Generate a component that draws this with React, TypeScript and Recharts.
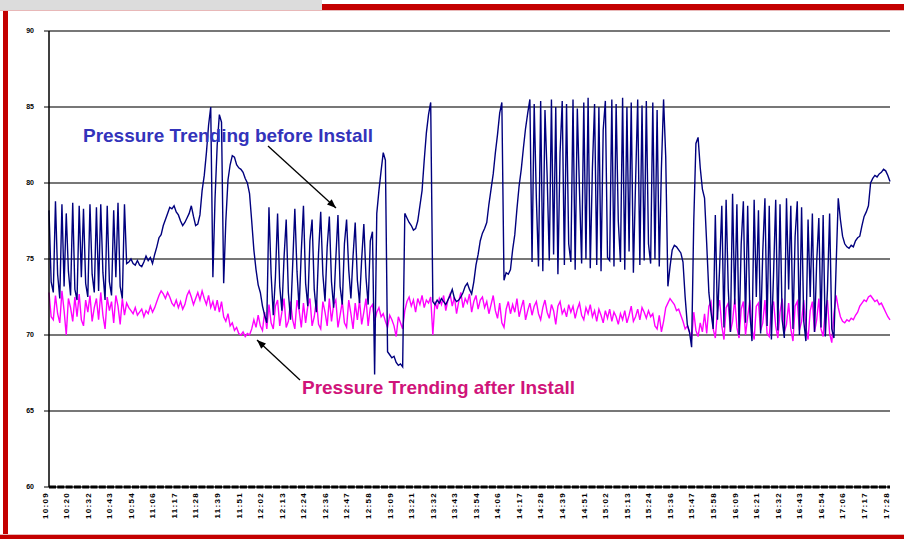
import React from 'react';
import { LineChart, Line, XAxis, YAxis, CartesianGrid } from 'recharts';

const timeLabels = [
  '10:09', '10:20', '10:32', '10:43', '10:54', '11:06', '11:17', '11:28', '11:39', '11:51',
  '12:02', '12:13', '12:24', '12:36', '12:47', '12:58', '13:09', '13:21', '13:32', '13:43',
  '13:54', '14:06', '14:17', '14:28', '14:39', '14:51', '15:02', '15:13', '15:24', '15:36',
  '15:47', '15:58', '16:09', '16:21', '16:32', '16:43', '16:54', '17:06', '17:17', '17:28',
];

const yTicks = [60, 65, 70, 75, 80, 85, 90];
const pointsPerLabel = 10;

const beforeInstall = [
  78.2, 73.5, 72.8, 78.8, 74.0, 72.4, 78.6, 73.2, 78.0, 74.2,
  72.6, 78.7, 73.0, 72.3, 78.5, 73.8, 78.3, 73.4, 72.5, 78.6,
  74.0, 72.8, 78.4, 72.9, 78.6, 74.1, 72.3, 78.5, 73.5, 72.6,
  78.2, 73.8, 78.7, 73.2, 72.4, 78.6, 74.7, 74.8, 75.0, 74.7,
  74.6, 74.9, 74.6, 74.5, 74.8, 75.2, 74.9, 75.1, 74.7, 75.3,
  75.8, 76.4, 76.6, 77.2, 77.6, 78.0, 78.4, 78.3, 78.5, 78.1,
  77.9, 77.5, 77.2, 77.4, 77.7, 78.0, 78.5, 77.8, 77.2, 77.3,
  77.9, 79.5, 80.5, 82.0, 83.8, 85.0, 73.8, 79.0, 82.5, 84.5,
  84.0, 73.4, 77.5, 80.2, 81.2, 81.8, 81.7, 81.2, 81.0, 80.9,
  80.7, 80.3, 80.0, 79.3, 77.5, 75.6, 74.3, 73.3, 72.8, 71.9,
  71.3, 70.8, 78.4, 74.0, 71.3, 73.8, 78.0, 73.2, 71.6, 75.1,
  77.6, 72.8, 71.0, 74.6, 78.3, 74.2, 71.7, 75.5, 78.5, 73.4,
  71.9, 76.2, 77.6, 73.0, 71.5, 75.4, 78.1, 74.0, 72.2, 75.8,
  77.8, 73.5, 71.8, 75.0, 77.9, 73.2, 72.0, 76.0, 77.6, 74.3,
  72.4, 75.2, 77.4, 73.6, 72.1, 75.0, 77.3, 73.8, 72.0, 76.2,
  76.8, 67.4, 78.0, 79.5, 80.8, 82.0, 81.5, 68.9, 68.7, 68.5,
  68.6, 68.2, 68.0, 68.1, 67.9, 78.0, 77.7, 77.4, 77.2, 76.9,
  77.0, 77.5, 78.5, 79.5, 81.5, 83.3, 84.5, 85.3, 72.2, 72.0,
  72.3, 72.1, 72.4, 72.2, 72.0, 72.3, 72.6, 73.0, 72.4, 72.2,
  72.3, 72.5, 72.8, 73.2, 73.4, 73.0, 72.7, 73.5, 74.6, 75.3,
  76.2, 76.7, 77.0, 77.4, 78.6, 79.6, 80.6, 82.0, 83.2, 84.6,
  85.3, 73.6, 74.1, 74.0, 74.3, 75.6, 76.6, 78.3, 79.8, 80.9,
  82.3, 83.6, 84.6, 85.5, 74.8, 85.2, 79.0, 74.5, 85.4, 74.2,
  84.8, 80.5, 74.9, 85.5, 75.3, 85.0, 74.0, 82.0, 85.4, 74.6,
  85.2, 76.0, 74.8, 85.5, 74.3, 84.9, 79.5, 74.7, 85.3, 75.0,
  85.6, 74.4, 81.0, 85.2, 74.6, 85.0, 74.2, 83.5, 85.4, 75.1,
  74.9, 85.5, 74.5, 85.2, 77.5, 74.8, 85.6, 74.3, 85.0, 75.5,
  85.3, 74.1, 80.0, 85.5, 74.6, 85.1, 74.9, 85.4, 76.0, 74.7,
  85.3, 75.0, 84.8, 74.5, 81.0, 85.5, 81.7, 73.2, 74.5, 75.6,
  75.9, 75.8, 75.6, 75.4, 74.8, 72.5, 70.7, 70.2, 69.2, 77.5,
  82.6, 83.0, 81.0, 79.6, 79.0, 76.0, 72.8, 71.5, 70.4, 77.9,
  71.0, 74.5, 78.5, 70.5, 78.9, 73.0, 70.2, 79.3, 72.0, 78.6,
  70.0, 76.0, 78.8, 70.8, 78.5, 71.5, 69.6, 78.9, 72.5, 78.2,
  70.1, 75.5, 79.0, 70.6, 78.5, 69.7, 74.0, 78.9, 70.3, 78.6,
  71.0, 69.8, 79.0, 73.0, 78.5, 70.4, 76.5, 78.8, 70.0, 78.4,
  70.9, 69.6, 77.6, 72.5, 78.0, 70.2, 74.8, 77.7, 70.5, 77.9,
  69.9, 73.0, 78.0, 70.4, 69.8, 74.5, 79.0, 77.6, 76.5, 76.0,
  75.8, 75.7, 75.9, 75.8, 76.2, 76.4, 76.5, 77.2, 77.8, 78.1,
  78.5, 80.0, 80.3, 80.5, 80.4, 80.6, 80.7, 80.9, 80.8, 80.5, 80.1,
];

const afterInstall = [
  72.8, 71.2, 71.0, 72.6, 71.4, 70.8, 72.9, 71.6, 70.0, 72.4,
  71.8, 70.9, 72.5, 71.2, 72.7, 71.0, 70.6, 72.3, 71.5, 72.6,
  70.9, 71.8, 72.4, 71.0, 72.8, 71.3, 70.4, 72.5, 71.6, 72.2,
  70.8, 72.6, 71.9, 70.7, 72.4, 71.3, 72.1, 71.8, 71.6, 71.4,
  71.8, 71.3, 71.5, 71.7, 71.2, 71.6, 71.4, 71.9, 71.5, 71.8,
  72.2, 72.6, 72.9, 72.7, 72.4, 72.8, 72.5, 72.1, 71.9, 72.3,
  71.8, 72.2, 71.7, 72.0, 72.6, 72.9, 72.5, 72.0, 72.4, 72.8,
  72.3, 72.9, 72.4, 72.0, 72.6, 71.8, 72.2, 71.6, 72.3, 71.5,
  72.2, 71.2, 70.9, 71.4, 70.6, 70.8, 70.3, 70.5, 70.1, 70.0,
  70.2, 69.9, 70.1, 70.0, 70.4, 71.0, 70.5, 71.3, 70.6, 70.3,
  71.5, 70.4, 72.0, 70.8, 70.4, 71.9, 72.3, 70.6, 71.5, 72.4,
  70.5, 70.9, 72.2, 71.0, 70.4, 72.3, 71.6, 70.5, 72.1, 70.8,
  71.9, 72.4, 70.6, 71.2, 72.3, 70.7, 70.4, 72.2, 71.5, 70.6,
  72.4, 70.9, 72.0, 72.3, 70.5, 71.3, 72.2, 70.8, 70.5, 72.3,
  71.4, 70.4, 72.1, 71.0, 72.3, 70.7, 71.5, 72.4, 70.6, 71.8,
  72.0, 70.9, 71.5, 71.8, 71.2, 71.4, 70.9, 70.5, 71.3, 71.0,
  70.6, 69.9, 71.2, 70.8, 70.4, 71.6, 72.2, 72.5, 71.9, 72.3,
  71.5, 72.4, 72.0, 72.6, 71.8, 72.3, 72.1, 72.5, 70.0, 72.2,
  71.7, 72.4, 72.0, 72.6, 71.6, 72.3, 72.7, 71.9, 72.5, 71.4,
  72.2, 72.8, 71.8, 72.4, 72.1, 72.7, 71.5, 72.2, 72.6, 71.7,
  72.3, 72.5, 71.8, 72.2, 71.4, 72.0, 72.6, 71.6, 71.1, 72.1,
  70.8, 70.5, 71.7, 72.2, 71.4, 72.0, 71.5, 72.4, 71.2, 71.8,
  72.3, 71.0, 71.6, 72.1, 71.3, 71.9, 72.2, 71.4, 71.0, 71.8,
  72.3, 71.5, 71.1, 72.0, 71.6, 70.7, 71.9, 72.2, 71.4, 71.7,
  71.2, 72.0, 71.5, 71.9, 71.1, 71.7, 72.1, 71.3, 71.0, 71.8,
  71.4, 72.0, 71.2, 71.6, 70.9, 71.7, 71.3, 70.8, 71.6, 71.1,
  71.7, 70.9, 71.5, 71.2, 70.7, 71.4, 71.0, 71.6, 70.8, 71.3,
  71.9, 70.9, 71.2, 71.7, 71.0, 71.8, 71.5, 71.1, 71.6, 71.2,
  71.4, 70.6, 70.4, 71.3, 70.2, 70.9, 71.8, 72.1, 72.4, 72.2,
  72.0, 71.6, 71.7, 71.3, 70.9, 70.4, 70.6, 70.2, 69.7, 71.5,
  70.3, 69.9, 70.8, 70.2, 71.4, 70.1, 71.9, 72.2, 70.4, 69.8,
  71.6, 72.3, 70.6, 69.7, 71.8, 72.1, 70.2, 70.9, 72.4, 70.5,
  69.8, 71.7, 72.2, 70.0, 71.2, 72.3, 70.4, 69.7, 71.9, 72.1,
  70.3, 70.8, 72.3, 70.1, 69.9, 71.8, 72.2, 70.6, 69.8, 71.5,
  72.4, 70.2, 70.7, 72.1, 70.4, 69.6, 71.9, 72.2, 70.3, 70.9,
  72.3, 70.5, 69.7, 71.6, 72.2, 70.2, 71.0, 72.4, 70.4, 69.9,
  71.7, 72.3, 70.1, 69.5, 71.4, 72.6, 71.8, 71.2, 70.9, 70.8,
  71.0, 70.9, 71.1, 71.0, 71.3, 71.5, 71.9, 72.1, 72.3, 72.2,
  72.5, 72.6, 72.4, 72.2, 72.3, 72.0, 72.1, 71.8, 71.5, 71.2, 71.0,
];

const data = beforeInstall.map((v, i) => ({ i, before: v, after: afterInstall[i] }));
const lastIndex = data.length - 1;
const xTicks = timeLabels.map((_, k) => k * pointsPerLabel);

const FONT = '"Liberation Sans", Arial, sans-serif';

const XTick = (props: any) => {
  const { x, y, payload } = props;
  const label = timeLabels[Math.round(payload.value / pointsPerLabel)] ?? '';
  return (
    <text
      transform={`translate(${x},${y}) rotate(-90)`}
      textAnchor="end"
      dy={-1.5}
      fontSize={8}
      fontWeight="bold"
      letterSpacing={1.3}
      fill="#000"
      fontFamily={FONT}
    >
      {label}
    </text>
  );
};

function arrowHead(x1: number, y1: number, x2: number, y2: number, len = 9, half = 3.5) {
  const dx = x2 - x1;
  const dy = y2 - y1;
  const d = Math.sqrt(dx * dx + dy * dy);
  const ux = dx / d;
  const uy = dy / d;
  const bx = x2 - ux * len;
  const by = y2 - uy * len;
  const px = -uy * half;
  const py = ux * half;
  return `${x2},${y2} ${bx + px},${by + py} ${bx - px},${by - py}`;
}

export default function App() {
  return (
    <div style={{ position: 'absolute', left: 0, top: 0, width: 904, height: 539, background: '#fff', overflow: 'hidden' }}>
      <svg width={904} height={539} style={{ position: 'absolute', left: 0, top: 0 }}>
        <rect x={0} y={0} width={322} height={10} fill="#dcdcdc" />
        <rect x={0} y={10} width={904} height={1} fill="#e8b8b8" />
        <rect x={322} y={4} width={582} height={6} fill="#c40000" />
        <rect x={3} y={11} width={5} height={528} fill="#c40000" />
        <rect x={0} y={534} width={904} height={1} fill="#e8b8b8" />
        <rect x={0} y={535} width={904} height={4} fill="#c40000" />
      </svg>
      <div style={{ position: 'absolute', left: 0, top: 0 }}>
        <LineChart width={904} height={539} data={data} margin={{ top: 31, right: 14, bottom: 0, left: 0 }}>
          <CartesianGrid vertical={false} stroke="#4a4a4a" strokeWidth={1.6} />
          <XAxis
            dataKey="i"
            type="number"
            domain={[0, lastIndex]}
            ticks={xTicks}
            interval={0}
            height={52}
            tickSize={3}
            tickMargin={2}
            tickLine={false}
            tick={<XTick />}
            axisLine={{ stroke: '#000', strokeWidth: 3, strokeDasharray: '7 1.3' }}
          />
          <YAxis
            type="number"
            domain={[60, 90]}
            ticks={yTicks}
            interval={0}
            width={49}
            allowDataOverflow
            tickSize={5}
            tickMargin={10}
            tickLine={{ stroke: '#000' }}
            axisLine={{ stroke: '#000', strokeWidth: 1.5 }}
            tick={{ fontSize: 7, fontWeight: 'bold', fill: '#000', fontFamily: FONT }}
          />
          <Line type="linear" dataKey="after" stroke="#ff00ff" strokeWidth={1.4} dot={false} isAnimationActive={false} />
          <Line type="linear" dataKey="before" stroke="#00007e" strokeWidth={1.4} dot={false} isAnimationActive={false} />
        </LineChart>
      </div>
      <svg width={904} height={539} style={{ position: 'absolute', left: 0, top: 0, pointerEvents: 'none' }}>
        <text x={83} y={142} fontSize={19} fontWeight="bold" fill="#3333bb" fontFamily={FONT} textLength={290} lengthAdjust="spacingAndGlyphs">
          Pressure Trending before Install
        </text>
        <line x1={268} y1={146} x2={336} y2={208} stroke="#000" strokeWidth={1.3} />
        <polygon points={arrowHead(268, 146, 336, 208)} fill="#000" />
        <text x={302} y={394} fontSize={19} fontWeight="bold" fill="#d0147a" fontFamily={FONT} textLength={273} lengthAdjust="spacingAndGlyphs">
          Pressure Trending after Install
        </text>
        <line x1={300} y1={380} x2={257} y2={340} stroke="#000" strokeWidth={1.3} />
        <polygon points={arrowHead(300, 380, 257, 340)} fill="#000" />
      </svg>
    </div>
  );
}
